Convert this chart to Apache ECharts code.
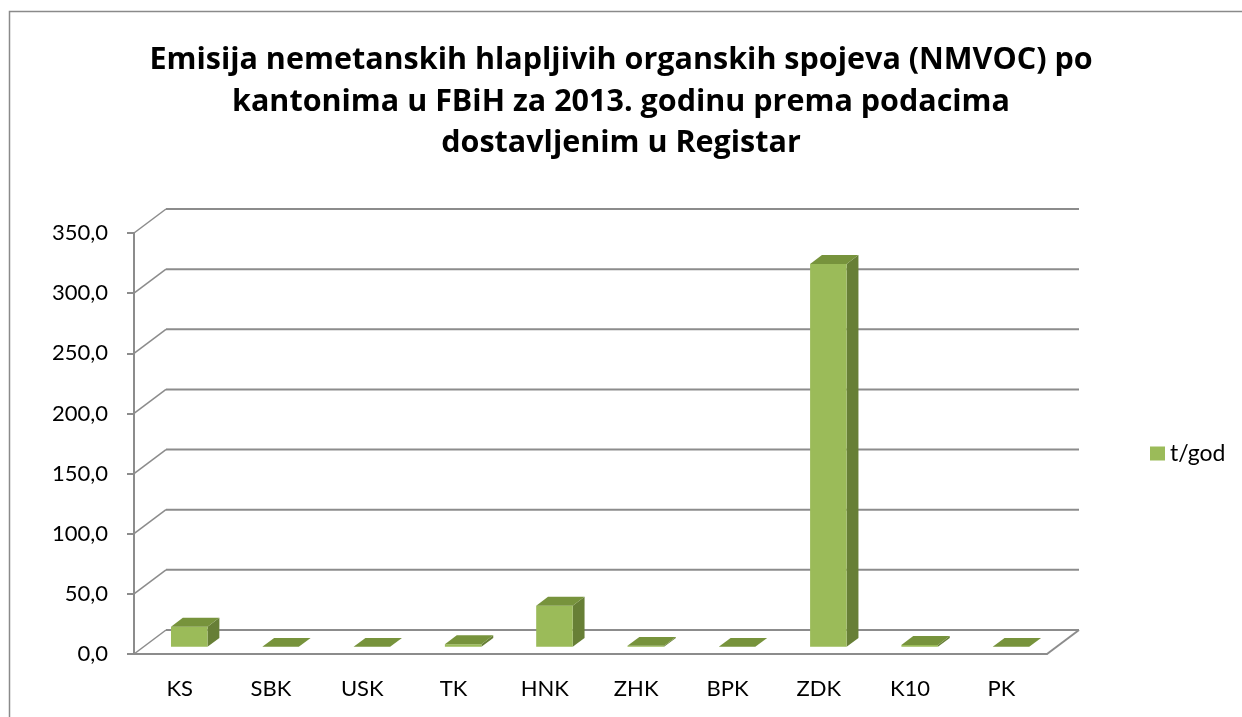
<!DOCTYPE html>
<html>
<head>
<meta charset="utf-8">
<script src="https://cdn.jsdelivr.net/npm/echarts@6/dist/echarts.min.js"></script>
<style>
  html, body { margin: 0; padding: 0; background: #fff; }
  #chart { width: 1242px; height: 717px; }
</style>
</head>
<body>
<div id="chart"></div>
<script>
// podaci
const categories = ['KS', 'SBK', 'USK', 'TK', 'HNK', 'ZHK', 'BPK', 'ZDK', 'K10', 'PK']
const values = [16.7, 0, 0, 2.2, 34.2, 0.8, 0, 318.3, 1.5, 0]
const ticks = [0, 50, 100, 150, 200, 250, 300, 350]
const seriesName = 't/god'

// 3D pomak (dubina) u pikselima
const DEPTH_X = 32
const DEPTH_Y = -24
const BAR_D0 = 0.3
const BAR_D1 = 0.67

const chart = echarts.init(document.getElementById('chart'))

const gridColor = '#8c8c8c'

// zadnji zid, lijevi zid i pod
const renderWall = (params, api) => {
  const cs = params.coordSys
  const v = api.value(1)
  const y = api.coord([0, v])[1]
  const x0 = cs.x
  const x1 = cs.x + cs.width
  const children = [
    {
      type: 'line',
      shape: { x1: x0 + DEPTH_X, y1: y + DEPTH_Y, x2: x1 + DEPTH_X, y2: y + DEPTH_Y },
      style: { stroke: gridColor, lineWidth: 2 }
    },
    {
      type: 'line',
      shape: { x1: x0, y1: y, x2: x0 + DEPTH_X, y2: y + DEPTH_Y },
      style: { stroke: gridColor, lineWidth: 1.5 }
    }
  ]
  if (v === 0) {
    children.push({
      type: 'line',
      shape: { x1: x1, y1: y, x2: x1 + DEPTH_X, y2: y + DEPTH_Y },
      style: { stroke: gridColor, lineWidth: 2 }
    })
  }
  return { type: 'group', children }
}

// 3D stupci
const renderBar = (params, api) => {
  const i = api.value(0)
  const v = api.value(1)
  const top = api.coord([i, v])
  const base = api.coord([i, 0])
  const bw = api.size([1, 0])[0] * 0.4
  const fx = BAR_D0 * DEPTH_X
  const fy = BAR_D0 * DEPTH_Y
  const dx = (BAR_D1 - BAR_D0) * DEPTH_X
  const dy = (BAR_D1 - BAR_D0) * DEPTH_Y
  const x0 = top[0] - bw / 2 + fx
  const x1 = top[0] + bw / 2 + fx
  const yt = top[1] + fy
  const yb = base[1] + fy
  return {
    type: 'group',
    children: [
      {
        type: 'polygon',
        shape: { points: [[x1, yt], [x1 + dx, yt + dy], [x1 + dx, yb + dy], [x1, yb]] },
        style: { fill: '#677f36' }
      },
      {
        type: 'rect',
        shape: { x: x0, y: yt, width: bw, height: Math.max(yb - yt, 0) },
        style: { fill: '#9bbb59' }
      },
      {
        type: 'polygon',
        shape: { points: [[x0, yt], [x0 + dx, yt + dy], [x1 + dx, yt + dy], [x1, yt]] },
        style: { fill: '#77933c' }
      }
    ]
  }
}

const option = {
  backgroundColor: '#ffffff',
  textStyle: { fontFamily: 'Lato' },
  title: {
    text: 'Emisija nemetanskih hlapljivih organskih spojeva (NMVOC) po\nkantonima u FBiH za 2013. godinu prema podacima\ndostavljenim u Registar',
    left: 'center',
    top: 35,
    textStyle: {
      fontFamily: 'Open Sans',
      fontWeight: 'bold',
      fontSize: 30.5,
      lineHeight: 41.5,
      color: '#000'
    }
  },
  legend: {
    data: [seriesName],
    left: 1145,
    top: 437,
    icon: 'rect',
    itemWidth: 15,
    itemHeight: 14,
    itemGap: 6,
    textStyle: { fontFamily: 'Lato', fontSize: 23, color: '#000' }
  },
  grid: {
    left: 134,
    right: 195,
    top: 233,
    bottom: 63
  },
  xAxis: {
    type: 'category',
    data: categories,
    axisLine: { show: true, lineStyle: { color: gridColor, width: 2 } },
    axisTick: { show: false },
    axisLabel: { fontFamily: 'Lato', fontSize: 22, color: '#000', margin: 24 },
    splitLine: { show: false }
  },
  yAxis: {
    type: 'value',
    min: 0,
    max: 350,
    interval: 50,
    axisLine: { show: true, lineStyle: { color: gridColor, width: 2 } },
    axisTick: { show: true, length: 7, lineStyle: { color: gridColor, width: 2 } },
    axisLabel: {
      fontFamily: 'Lato',
      fontSize: 22,
      color: '#000',
      margin: 26,
      formatter: v => v.toFixed(1).replace('.', ',')
    },
    splitLine: { show: false }
  },
  series: [
    {
      name: 'wall',
      type: 'custom',
      renderItem: renderWall,
      data: ticks.map(t => [0, t]),
      silent: true,
      z: 1
    },
    {
      name: seriesName,
      type: 'custom',
      renderItem: renderBar,
      itemStyle: { color: '#9bbb59' },
      data: values.map((v, i) => [i, v]),
      z: 2
    }
  ],
  graphic: [
    {
      type: 'rect',
      shape: { x: 9.5, y: 11.5, width: 1260, height: 740 },
      style: { fill: 'none', stroke: '#8a8a8a', lineWidth: 1.5 },
      silent: true
    }
  ]
}

chart.setOption(option)
</script>
</body>
</html>
